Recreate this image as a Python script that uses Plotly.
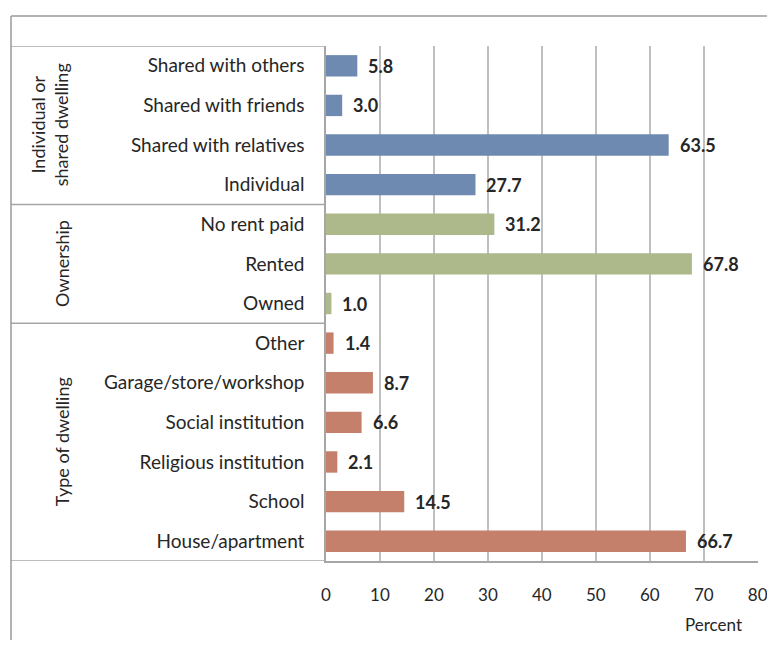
import plotly.graph_objects as go

# data, top to bottom as shown in the chart
categories = [
    "Shared with others", "Shared with friends", "Shared with relatives", "Individual",
    "No rent paid", "Rented", "Owned",
    "Other", "Garage/store/workshop", "Social institution", "Religious institution",
    "School", "House/apartment",
]
values = [5.8, 3.0, 63.5, 27.7, 31.2, 67.8, 1.0, 1.4, 8.7, 6.6, 2.1, 14.5, 66.7]
groups = ["Individual or<br>shared dwelling", "Ownership", "Type of dwelling"]
group_sizes = [4, 3, 6]
group_colors = ["#6f8ab0", "#adb88b", "#c4806b"]
x_ticks = [0, 10, 20, 30, 40, 50, 60, 70, 80]

FONT = "Lato, 'Open Sans', sans-serif"
TEXT = "#262626"
LINE = "#a6a6a6"

# the page body adds an 8px margin on each side, so the figure is kept smaller
W, H = 759, 632
ML, MR, MT, MB = 318, 9, 38, 79
PW, PH = W - ML - MR, H - MT - MB


def px_x(px):
    # figure pixel -> paper x
    return (px - ML) / PW


def px_y(py):
    # figure pixel -> paper y
    return (H - MB - py) / PH


n = len(categories)
ypos = [n - 1 - i for i in range(n)]  # top row gets the highest position
colors = []
for c, size in zip(group_colors, group_sizes):
    colors += [c] * size

fig = go.Figure()
fig.add_trace(go.Bar(
    x=values,
    y=ypos,
    orientation="h",
    width=0.54,
    marker=dict(color=colors, line=dict(width=0)),
    hoverinfo="x+text",
    hovertext=categories,
))

# value labels next to each bar
for v, y in zip(values, ypos):
    fig.add_annotation(
        x=v, y=y, text=f"<b>{v:.1f}</b>", showarrow=False,
        xanchor="left", xshift=9, font=dict(family=FONT, size=18, color=TEXT),
    )

# group labels and separator lines in the left margin
x_left = px_x(3)
start = n
for name, size in zip(groups, group_sizes):
    top = start - 0.5
    bottom = start - size - 0.5
    fig.add_annotation(
        x=px_x(41) if "<br>" in name else px_x(54), xref="paper", y=(top + bottom) / 2,
        text=name, textangle=-90, showarrow=False, xanchor="center", yanchor="middle",
        font=dict(family=FONT, size=18, color=TEXT),
    )
    fig.add_shape(type="line", xref="paper", x0=x_left, x1=0, y0=top, y1=top,
                  line=dict(color=LINE, width=1.5))
    start -= size
fig.add_shape(type="line", xref="paper", x0=x_left, x1=0, y0=-0.5, y1=-0.5,
              line=dict(color=LINE, width=1.5))

# outer frame: top line and left line
fig.add_shape(type="line", xref="paper", yref="paper", x0=x_left, x1=px_x(W + 5),
              y0=px_y(8), y1=px_y(8), line=dict(color="#9a9a9a", width=1.5))
fig.add_shape(type="line", xref="paper", yref="paper", x0=x_left, x1=x_left,
              y0=px_y(8), y1=px_y(H + 5), line=dict(color="#9a9a9a", width=1.5))

fig.add_annotation(
    x=px_x(705), xref="paper", y=px_y(616), yref="paper", text="Percent", showarrow=False,
    xanchor="center", yanchor="middle",
    font=dict(family=FONT, size=17, color=TEXT),
)

fig.update_layout(
    width=W, height=H,
    margin=dict(l=ML, r=MR, t=MT, b=MB, autoexpand=False),
    paper_bgcolor="white", plot_bgcolor="white",
    showlegend=False,
    font=dict(family=FONT, color=TEXT),
    xaxis=dict(
        range=[0, 80.05], tickvals=x_ticks, showgrid=True, gridcolor="#bfbfbf", gridwidth=1.5,
        zeroline=False, showline=True, linecolor=LINE, linewidth=1.5, automargin=False,
        ticks="outside", ticklen=18, tickcolor="rgba(0,0,0,0)", ticklabeloverflow="allow",
        tickfont=dict(family=FONT, size=17, color=TEXT), fixedrange=True,
    ),
    yaxis=dict(
        range=[-0.5, n - 0.5], tickvals=ypos, ticktext=categories, showgrid=False,
        zeroline=False, showline=True, linecolor=LINE, linewidth=1.5, automargin=False,
        ticks="outside", ticklen=16, tickcolor="rgba(0,0,0,0)",
        tickfont=dict(family=FONT, size=19, color=TEXT), fixedrange=True,
    ),
)

fig.write_html("out.html")
